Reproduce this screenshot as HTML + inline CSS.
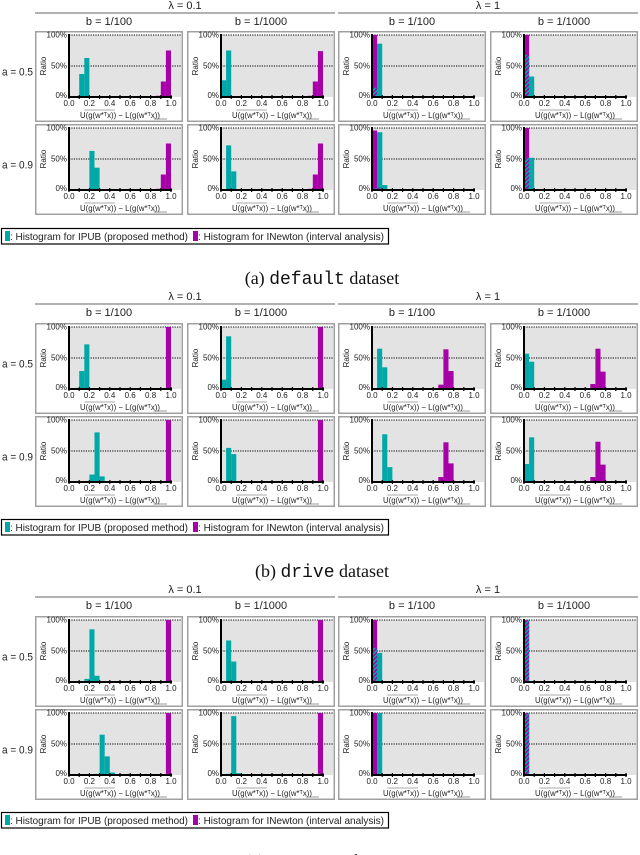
<!DOCTYPE html>
<html><head><meta charset="utf-8">
<style>
html,body{margin:0;padding:0;background:#fff;}
svg{display:block;font-family:"Liberation Sans",sans-serif;}
.tk{font-size:8px;fill:#222;}
.hd{font-size:11px;fill:#222;}
</style></head>
<body>
<svg id="fig" width="640" height="855" viewBox="0 0 640 855">
<defs>
<pattern id="hatch" patternUnits="userSpaceOnUse" width="3" height="3" patternTransform="rotate(45)">
<rect width="3" height="3" fill="#a800a8"/><rect width="1.5" height="3" fill="#00a8a8"/>
</pattern>
</defs>
</svg>
<script>
// Bin width 0.05; each entry: [binIndex, percent]
const binWidth = 0.05;
const datasets = ["(a)", "(b)", "(c)"];
const lambdas = ["λ = 0.1", "λ = 1"];
const bLabels = ["b = 1/100", "b = 1/1000"];
const aLabels = ["a = 0.5", "a = 0.9"];
const xTicks = [0, 0.2, 0.4, 0.6, 0.8, 1.0];
const xTickLabels = ["0.0", "0.2", "0.4", "0.6", "0.8", "1.0"];
const yTicks = [0, 50, 100];
const yTickLabels = ["0%", "50%", "100%"];
const ipubA = [
 [[[2,37],[3,63]], [[0,27],[1,75]], [[0,15],[1,86]], [[0,68],[1,33]]],
 [[[4,63],[5,36],[6,1]], [[1,72],[2,30]], [[0,3],[1,93],[2,8]], [[0,52],[1,52]]]
];
const inewtonA = [
 [[[17,2],[18,25],[19,75]], [[17,2],[18,25],[19,74]], [[0,100]], [[0,100]]],
 [[[17,2],[18,25],[19,75]], [[17,2],[18,25],[19,75]], [[0,96],[1,4]], [[0,100]]]
];
const ipubB = [
 [[[2,29],[3,72]], [[0,15],[1,85]], [[1,65],[2,35]], [[0,57],[1,44]]],
 [[[4,12],[5,80],[6,9]], [[1,55],[2,45]], [[2,77],[3,24]], [[0,29],[1,72]]]
];
const inewtonB = [
 [[[19,100]], [[19,100]], [[13,7],[14,64],[15,29]], [[13,8],[14,65],[15,28]]],
 [[[19,100]], [[19,100]], [[13,8],[14,64],[15,30]], [[13,8],[14,65],[15,28]]]
];
const ipubC = [
 [[[3,5],[4,85],[5,10]], [[1,67],[2,33]], [[0,55],[1,47]], [[0,100]]],
 [[[5,2],[6,65],[7,30],[8,4]], [[1,2],[2,95],[3,3]], [[1,100]], [[0,100]]]
];
const inewtonC = [
 [[[19,100]], [[19,100]], [[0,100]], [[0,100]]],
 [[[19,100]], [[19,100]], [[0,100]], [[0,100]]]
];
const ipubAll = [ipubA, ipubB, ipubC];
const inewtonAll = [inewtonA, inewtonB, inewtonC];
const captionsMid = ["default", "drive", "covtype"];

const NS = "http://www.w3.org/2000/svg";
const svg = document.getElementById("fig");
function mk(tag, attrs, parent, text){
  const e = document.createElementNS(NS, tag);
  for (const k in attrs) e.setAttribute(k, attrs[k]);
  if (text !== undefined) e.textContent = text;
  (parent || svg).appendChild(e);
  return e;
}
const colX = [35, 187, 338, 490];
const blocks = [
  {hdY:9, lineY:13, bY:25, rows:[31,124], legY:228, capY:284},
  {hdY:300, lineY:304, bY:316, rows:[323,416], legY:519, capY:577},
  {hdY:593, lineY:597, bY:609, rows:[616,709], legY:812, capY:867}
];
const PW = 148, PH = 91, AX = 34, X1 = 136, GR = 146, YT = 4, Y0 = 66;
function xs(v){ return AX + v * (X1 - AX); }
function ys(p){ return Y0 - p / 100 * (Y0 - YT); }

blocks.forEach((B, d) => {
  const blk = mk("g", {});
  
  
  for (let l = 0; l < 2; l++){
    const x0 = colX[l*2], x1 = colX[l*2+1] + PW;
    const t = mk("text", {x:(x0+x1)/2, y:B.hdY, "text-anchor":"middle", class:"hd"}, blk, lambdas[l]);
    
    
    mk("line", {x1:x0, x2:x1, y1:B.lineY, y2:B.lineY, stroke:"#999", "stroke-width":1.5}, blk);
    for (let b = 0; b < 2; b++){
      const cx = colX[l*2+b] + PW/2;
      const bt = mk("text", {x:cx, y:B.bY, "text-anchor":"middle", class:"hd"}, blk, bLabels[b]);
      
      
    }
  }
  for (let r = 0; r < 2; r++){
    const ry = B.rows[r];
    const at = mk("text", {x:2, y:ry+PH/2-1, class:"hd", "font-size":"10.5", textLength:31, lengthAdjust:"spacingAndGlyphs"}, blk, aLabels[r]);
    
    
    for (let c = 0; c < 4; c++){
      const px = colX[c];
      const g = mk("g", {transform:`translate(${px},${ry})`}, blk);
      
      
      mk("rect", {x:0.75, y:0.75, width:PW-1.5, height:PH-1.5, fill:"#fff", stroke:"#a0a0a0", "stroke-width":1.5}, g);
      mk("rect", {x:AX, y:YT, width:GR-AX, height:Y0-YT, fill:"#e3e3e3"}, g);
      [50,100].forEach(p => mk("line", {x1:AX, x2:GR, y1:ys(p), y2:ys(p), stroke:"#000", "stroke-width":1, "stroke-dasharray":"1.2,1.2"}, g));
      const ip = ipubAll[d][r][c], nw = inewtonAll[d][r][c];
      const bw = binWidth * (X1 - AX);
      ip.forEach(([i,v]) => {
        const rb = mk("rect", {x:xs(i*binWidth), y:ys(v), width:bw, height:Y0-ys(v), fill:"#00a8a8"}, g);
        
        
      });
      nw.forEach(([i,v]) => {
        const rb = mk("rect", {x:xs(i*binWidth), y:ys(v), width:bw, height:Y0-ys(v), fill:"#a800a8"}, g);
        
        
      });
      ip.forEach(([i,v]) => {
        const m = nw.find(e => e[0] === i);
        if (m){
          const lo = Math.min(v, m[1]);
          if (v > m[1]) mk("rect", {x:xs(i*binWidth), y:ys(v), width:bw, height:ys(m[1])-ys(v), fill:"#00a8a8"}, g);
          const hb = mk("rect", {x:xs(i*binWidth), y:ys(lo), width:bw, height:Y0-ys(lo), fill:"url(#hatch)"}, g);
          
          
        }
      });
      mk("line", {x1:AX, x2:AX, y1:YT-1, y2:Y0+1, stroke:"#000", "stroke-width":2}, g);
      mk("line", {x1:AX-1, x2:X1+1, y1:Y0, y2:Y0, stroke:"#000", "stroke-width":2}, g);
      for (let k = 0; k <= 10; k++){
        mk("line", {x1:xs(k/10), x2:xs(k/10), y1:Y0-2, y2:Y0+2, stroke:"#000", "stroke-width":1.2}, g);
      }
      yTicks.forEach((p,k) => mk("text", {x:AX-2, y:ys(p)+(k===0?1:2.5), "text-anchor":"end", class:"tk", "font-size":"7"}, g, yTickLabels[k]));
      xTicks.forEach((v,k) => mk("text", {x:xs(v), y:Y0+9, "text-anchor":"middle", class:"tk"}, g, xTickLabels[k]));
      const xl = mk("text", {x:xs(0.5), y:Y0+21, "text-anchor":"middle", class:"tk", "font-size":"7.5", textLength:80, lengthAdjust:"spacingAndGlyphs"}, g, "U(g(w*ᵀx)) − L(g(w*ᵀx))");
      
      
      mk("line", {x1:xs(0.2)-5, x2:xs(0.45), y1:Y0+13, y2:Y0+13, stroke:"#555", "stroke-width":0.6}, g);
      mk("line", {x1:xs(0.83), x2:xs(1.0)-4, y1:Y0+22, y2:Y0+22, stroke:"#555", "stroke-width":0.6}, g);
      const yl = mk("text", {x:0, y:0, transform:`translate(11,${(YT+Y0)/2}) rotate(-90)`, "text-anchor":"middle", class:"tk", "font-size":"7.5"}, g, "Ratio");
      
      
    }
  }
  const lg = mk("g", {transform:`translate(1,${B.legY})`}, blk);
  
  
  mk("rect", {x:0.5, y:0.5, width:387, height:15.5, fill:"#fff", stroke:"#000", "stroke-width":1.2}, lg);
  mk("rect", {x:4, y:3, width:5, height:10, fill:"#00a8a8"}, lg);
  mk("text", {x:9, y:12, "font-size":"10.5", fill:"#222", textLength:178, lengthAdjust:"spacingAndGlyphs"}, lg, ": Histogram for IPUB (proposed method)");
  mk("rect", {x:192, y:3, width:5, height:10, fill:"#a800a8"}, lg);
  mk("text", {x:197, y:12, "font-size":"10.5", fill:"#222", textLength:186, lengthAdjust:"spacingAndGlyphs"}, lg, ": Histogram for INewton (interval analysis)");
  const cap = mk("text", {x:322, y:B.capY, "text-anchor":"middle", "font-family":"Liberation Serif, serif", "font-size":"18", fill:"#111"}, blk);
  
  
  mk("tspan", {}, cap, datasets[d] + " ");
  mk("tspan", {"font-family":"Liberation Mono, monospace"}, cap, captionsMid[d]);
  mk("tspan", {}, cap, " dataset");
});
</script>
</body></html>
